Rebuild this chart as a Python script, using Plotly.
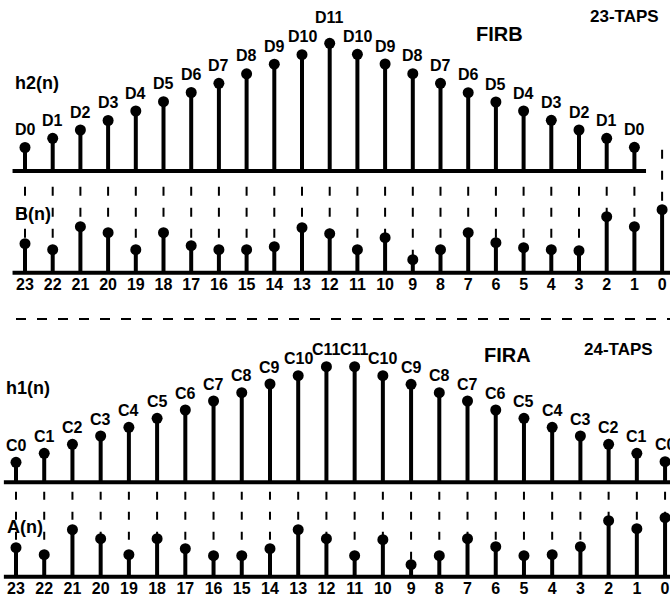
import plotly.graph_objects as go

# ---------------- data ----------------
# FIRB (23 taps) coefficient amplitudes, left to right: D0..D11..D0
h2_names = ["D0", "D1", "D2", "D3", "D4", "D5", "D6", "D7", "D8", "D9", "D10", "D11",
            "D10", "D9", "D8", "D7", "D6", "D5", "D4", "D3", "D2", "D1", "D0"]
h2_vals = [2.35, 3.27, 4.10, 5.05, 6.00, 6.93, 7.85, 8.77, 9.72, 10.68, 11.63, 12.77,
           11.67, 10.70, 9.73, 8.77, 7.83, 6.90, 6.00, 5.07, 4.10, 3.27, 2.37]

# B(n) samples, n = 23..0
n_labels = ["23", "22", "21", "20", "19", "18", "17", "16", "15", "14", "13", "12",
            "11", "10", "9", "8", "7", "6", "5", "4", "3", "2", "1", "0"]
B_vals = [2.9, 2.3, 4.6, 4.0, 2.3, 4.0, 2.7, 2.3, 2.3, 2.6, 4.5, 3.9,
          2.3, 3.5, 1.3, 2.3, 4.0, 3.0, 2.5, 2.3, 2.2, 5.6, 4.6, 6.3]

# FIRA (24 taps): C0..C11 C11..C0
h1_names = ["C0", "C1", "C2", "C3", "C4", "C5", "C6", "C7", "C8", "C9", "C10", "C11",
            "C11", "C10", "C9", "C8", "C7", "C6", "C5", "C4", "C3", "C2", "C1", "C0"]
h1_vals = [2.00, 2.90, 3.80, 4.63, 5.50, 6.40, 7.23, 8.13, 8.96, 9.83, 10.66, 11.56,
           11.56, 10.66, 9.80, 8.96, 8.13, 7.23, 6.40, 5.50, 4.63, 3.80, 2.90, 2.06]

# A(n) samples, n = 23..0
A_vals = [2.9, 2.2, 4.7, 3.8, 2.2, 3.8, 2.8, 2.1, 2.1, 2.8, 4.7, 3.8,
          2.1, 3.7, 1.2, 2.1, 3.8, 3.0, 2.1, 2.2, 3.0, 5.6, 4.8, 5.9]

# ---------------- layout helpers ----------------
W, H = 670, 597
UNIT = 10.0  # px per value unit
FONT = "Liberation Sans, Arial, sans-serif"
BLACK = "#000000"


def yrange(base_px):
    return [(base_px - H) / UNIT, base_px / UNIT]


def xrange(first_px, step_px):
    return [-first_px / step_px, (W - first_px) / step_px]


def stems(xs, ys, xa, ya, width=4):
    sx, sy = [], []
    for x, y in zip(xs, ys):
        sx += [x, x, None]
        sy += [0, y, None]
    return go.Scatter(x=sx, y=sy, mode="lines", xaxis=xa, yaxis=ya,
                      line=dict(color=BLACK, width=width), hoverinfo="skip",
                      showlegend=False)


def dashes(xs, y0s, y1s, xa, ya, dash):
    sx, sy = [], []
    for x, a, b in zip(xs, y0s, y1s):
        sx += [x, x, None]
        sy += [a, b, None]
    return go.Scatter(x=sx, y=sy, mode="lines", xaxis=xa, yaxis=ya,
                      line=dict(color=BLACK, width=2, dash=dash), hoverinfo="skip",
                      showlegend=False)


def markers(xs, ys, xa, ya):
    return go.Scatter(x=xs, y=ys, mode="markers", xaxis=xa, yaxis=ya,
                      marker=dict(color=BLACK, size=11), hoverinfo="skip",
                      showlegend=False)


def baseline(x0, x1, xa, ya):
    return go.Scatter(x=[x0, x1], y=[0, 0], mode="lines", xaxis=xa, yaxis=ya,
                      line=dict(color=BLACK, width=4), hoverinfo="skip",
                      showlegend=False)


fig = go.Figure()

k_top_h2 = list(range(len(h2_vals)))
k_top_B = list(range(len(B_vals)))
k_bot = list(range(len(h1_vals)))

# ---- top section (FIRB) ----
dash_top = 8.6      # just below the h2 baseline (in B units)
dash_top_free = 12.3  # column without an h2 stem
fig.add_trace(dashes(k_top_B,
                     [dash_top if k < len(h2_vals) else dash_top_free for k in k_top_B],
                     B_vals, "x", "y2", "9px,12px"))
fig.add_trace(baseline(-0.45, len(h2_vals) - 1 + 0.42, "x", "y"))
fig.add_trace(stems(k_top_h2, h2_vals, "x", "y"))
fig.add_trace(markers(k_top_h2, h2_vals, "x", "y"))
fig.add_trace(baseline(-0.45, len(B_vals) + 2, "x", "y2"))
fig.add_trace(stems(k_top_B, B_vals, "x", "y2"))
fig.add_trace(markers(k_top_B, B_vals, "x", "y2"))

# ---- bottom section (FIRA) ----
dash_bot = 8.5
fig.add_trace(dashes(k_bot, [dash_bot] * len(k_bot), A_vals, "x2", "y4", "8px,12px"))
fig.add_trace(baseline(-0.43, len(h1_vals) + 2, "x2", "y3"))
fig.add_trace(stems(k_bot, h1_vals, "x2", "y3"))
fig.add_trace(markers(k_bot, h1_vals, "x2", "y3"))
fig.add_trace(baseline(-0.43, len(A_vals) + 2, "x2", "y4"))
fig.add_trace(stems(k_bot, A_vals, "x2", "y4"))
fig.add_trace(markers(k_bot, A_vals, "x2", "y4"))

annotations = []
peak_top = max(h2_vals)
for k, (nm, v) in enumerate(zip(h2_names, h2_vals)):
    annotations.append(dict(x=k, y=v, xref="x", yref="y", text=nm, showarrow=False,
                            yshift=26 if v == peak_top else 18, yanchor="middle",
                            font=dict(family=FONT, size=16, color=BLACK, weight="bold")))
for k, (nm, v) in enumerate(zip(h1_names, h1_vals)):
    annotations.append(dict(x=k, y=v, xref="x2", yref="y3", text=nm, showarrow=False,
                            yshift=17, yanchor="middle",
                            font=dict(family=FONT, size=16, color=BLACK, weight="bold")))


def label(text, px, py, size, anchor="left"):
    annotations.append(dict(x=px / W, y=1 - py / H, xref="paper", yref="paper", text=text,
                            showarrow=False, xanchor=anchor, yanchor="middle",
                            font=dict(family=FONT, size=size, color=BLACK, weight="bold")))


label("h2(n)", 13, 83, 18)
label("B(n)", 13, 214, 18)
label("h1(n)", 4, 388, 18)
label("A(n)", 5, 527, 18)
label("FIRB", 499, 34, 20, "center")
label("23-TAPS", 624, 16, 17, "center")
label("FIRA", 508, 355, 20, "center")
label("24-TAPS", 618, 350, 17, "center")

axis_off = dict(visible=False, showgrid=False, zeroline=False, fixedrange=True)
tick_font = dict(family=FONT, size=16, color=BLACK, weight="bold")

fig.update_layout(
    width=W, height=H,
    margin=dict(l=0, r=0, t=0, b=0, pad=0),
    paper_bgcolor="white", plot_bgcolor="white",
    showlegend=False,
    annotations=annotations,
    shapes=[dict(type="line", xref="paper", yref="paper",
                 x0=16 / W, x1=1.0, y0=1 - 319 / H, y1=1 - 319 / H,
                 line=dict(color=BLACK, width=2, dash="10px,11px"))],
    xaxis=dict(range=xrange(25, 27.7), anchor="free", position=1 - 272.7 / H,
               tickmode="array", tickvals=k_top_B, ticktext=n_labels,
               showgrid=False, zeroline=False, showline=False, ticks="",
               tickfont=tick_font, fixedrange=True),
    xaxis2=dict(range=xrange(16, 28.22), overlaying="x", anchor="free", position=1 - 576.7 / H,
                tickmode="array", tickvals=k_bot, ticktext=n_labels,
                showgrid=False, zeroline=False, showline=False, ticks="",
                tickfont=tick_font, fixedrange=True),
    yaxis=dict(range=yrange(171), **axis_off),
    yaxis2=dict(range=yrange(272.7), overlaying="y", **axis_off),
    yaxis3=dict(range=yrange(482.3), overlaying="y", **axis_off),
    yaxis4=dict(range=yrange(576.7), overlaying="y", **axis_off),
)

fig.write_html("out.html", config=dict(displayModeBar=False),
               post_script="document.body.style.margin='0';document.body.style.overflow='hidden';")
